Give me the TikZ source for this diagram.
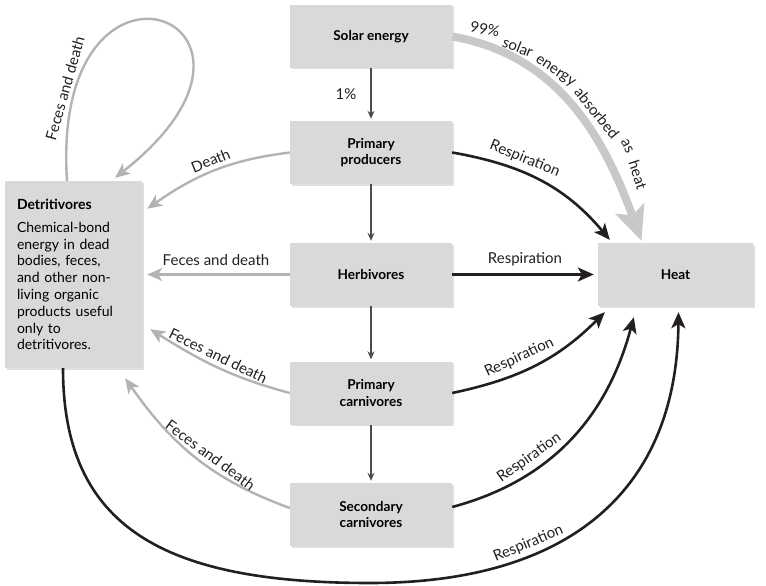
\documentclass[tikz,border=0pt]{standalone}
\usepackage{fontspec}
\setmainfont{Lato}
\usetikzlibrary{arrows.meta,positioning,shadows,calc}
\definecolor{boxgray}{HTML}{D9D9D9}
\definecolor{ink}{HTML}{231F20}
\definecolor{wastegray}{HTML}{B3B3B3}
\definecolor{sungray}{HTML}{C8C8C8}
\tikzset{
  level/.style={fill=boxgray,minimum width=162pt,minimum height=63pt,
                align=center,font=\fontsize{13.6}{16.7}\selectfont\bfseries,
                drop shadow={shadow xshift=1.5pt,shadow yshift=-1.5pt,opacity=.25}},
  flow/.style={-{Stealth[length=8pt,width=7pt]},line width=1.1pt,draw=black!70,
               shorten >=2pt},
  resp/.style={-{Stealth[length=16pt,width=14pt,inset=4pt]},line width=2.6pt,draw=ink},
  waste/.style={-{Stealth[length=15pt,width=13pt,inset=4pt]},line width=2.4pt,
                draw=wastegray},
  sun/.style={-{Stealth[length=34pt,width=30pt,inset=7pt]},line width=8pt,draw=sungray},
  lbl/.style={font=\fontsize{15}{17}\selectfont,text=ink,inner sep=2pt},
}

\begin{document}
\begin{tikzpicture}[x=1pt,y=1pt]
  \useasboundingbox (0,0) rectangle (766,-586);
  % trophic levels
  \node[level] (solar) at (371,-36.5) {Solar energy};
  \node[level] (prod)  at (371,-152.5) {Primary\\producers};
  \node[level] (herb)  at (371,-274.5) {Herbivores};
  \node[level] (pcarn) at (371,-393) {Primary\\carnivores};
  \node[level] (scarn) at (371,-514.5) {Secondary\\carnivores};
  \node[level,minimum width=155pt] (heat) at (675.5,-274.5) {Heat};
  \node[level,minimum width=137pt,minimum height=187pt,text width=113pt,
        align=left,font=\fontsize{14}{16.8}\selectfont] (detr) at (73.5,-274.5)
       {\textbf{Detritivores}\\[6pt]Chemical-bond\\energy in dead\\bodies, feces,\\
        and other non-\\living organic\\products useful\\only to\\detritivores.};
  \coordinate (low) at (370,-583);

  % food chain
  \draw[flow] (solar) -- node[left=12pt,lbl]{1\%} (prod);
  \draw[flow] (prod) -- (herb);
  \draw[flow] (herb) -- (pcarn);
  \draw[flow] (pcarn) -- (scarn);

  % sunlight lost as heat
  \draw[sun] (solar.east) to[out=-10,in=110] ([xshift=-34pt,yshift=2pt]heat.north);
  \foreach \w/\x/\y/\r [count=\k] in {99\%/485/29/-12,solar/518/47/-22,
      energy/555/72/-34,absorbed/597/113/-51,as/627/146/-64,heat/638/175/-72}
    \node[lbl,rotate=\r] (sunw\k) at (\x,-\y) {\w};

  % respiration
  \draw[resp] (prod.east) to[out=-10,in=130]
    node[pos=.37,sloped,above=3pt,lbl]{Respiration} ([xshift=12pt,yshift=3pt]heat.north west);
  \draw[resp,shorten >=4pt] (herb) -- node[above=5pt,lbl]{Respiration} (heat);
  \draw[resp] (pcarn.east) to[out=12,in=-135]
    node[pos=.43,sloped,above=4pt,lbl]{Respiration} ([xshift=7pt,yshift=-6pt]heat.south west);
  \draw[resp] ([yshift=7.5pt]scarn.east) to[out=15,in=-105]
    node[pos=.33,sloped,above=3pt,lbl]{Respiration} ([xshift=36pt,yshift=-11pt]heat.south west);
  \draw[resp] ([xshift=-10.5pt]detr.south) .. controls +(0,-160) and (165,-583) .. (low)
    .. controls (570,-583) and (677,-490) .. ([xshift=3pt,yshift=-6pt]heat.south)
    node[pos=.32,sloped,above=2pt,lbl]{Respiration};

  % feces and death
  \draw[waste] (prod.west) to[out=187,in=35]
    node[pos=.5,sloped,above=2pt,lbl]{Death} ([xshift=5pt,yshift=-28pt]detr.north east);
  \draw[waste,shorten >=5pt] (herb.west) -- node[above=6pt,lbl]{Feces and death}
    (herb.west -| detr.east);
  \draw[waste] (pcarn.west) to[out=165,in=-32]
    node[pos=.53,sloped,above=2pt,lbl]{Feces and death} ([xshift=8pt,yshift=39pt]detr.south east);
  \draw[waste] ([yshift=6.5pt]scarn.west) to[out=160,in=-55]
    node[pos=.45,sloped,above=2pt,lbl]{Feces and death} ([xshift=-17pt,yshift=-10pt]detr.south east);
  \draw[waste] ([xshift=-6.5pt]detr.north) .. controls +(-17,263) and (316,-20) ..
    ([xshift=41.5pt,yshift=3pt]detr.north) node[pos=.14,sloped,above=1pt,lbl]{Feces and death};
\end{tikzpicture}
\end{document}
